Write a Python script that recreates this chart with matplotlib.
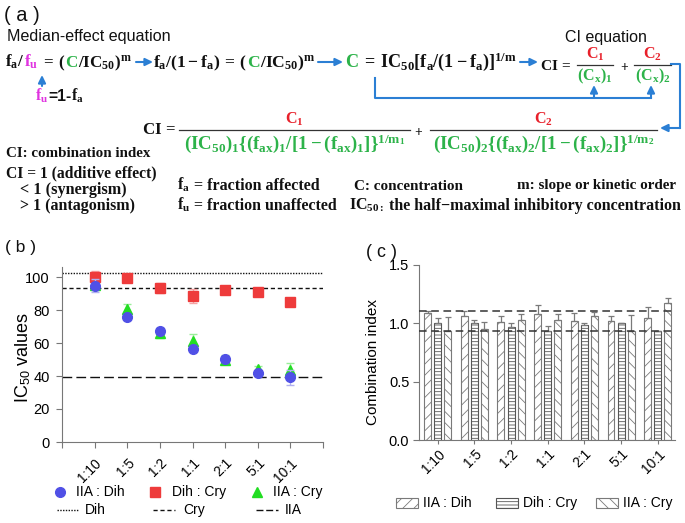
import matplotlib
matplotlib.use('Agg')
import matplotlib.pyplot as plt
from matplotlib.lines import Line2D
from matplotlib.patches import Rectangle, FancyArrowPatch

# ---------------- data ----------------
ratios = ['1:10', '1:5', '1:2', '1:1', '2:1', '5:1', '10:1']

ic50_iia_dih = [94.7, 75.6, 67.5, 56.6, 50.1, 41.8, 39.2]
ic50_iia_dih_err = [4.0, 1.5, 1.5, 1.5, 1.5, 2.0, 4.5]
ic50_dih_cry = [99.8, 99.6, 93.3, 88.5, 91.9, 91.1, 84.7]
ic50_dih_cry_err = [4.0, 1.0, 3.0, 4.5, 1.0, 1.5, 1.0]
ic50_iia_cry = [95.0, 80.4, 66.0, 61.2, 50.0, 44.2, 43.6]
ic50_iia_cry_err = [2.0, 3.5, 3.0, 4.5, 3.0, 2.0, 4.5]
ic50_dih_alone = 102.2
ic50_cry_alone = 93.1
ic50_iia_alone = 39.2

ci_iia_dih = [1.086, 1.063, 1.009, 1.077, 1.017, 1.017, 1.043]
ci_iia_dih_err = [0.022, 0.047, 0.056, 0.080, 0.069, 0.048, 0.100]
ci_dih_cry = [1.006, 1.006, 0.968, 0.934, 0.986, 1.000, 0.934]
ci_dih_cry_err = [0.037, 0.024, 0.032, 0.043, 0.014, 0.006, 0.0]
ci_iia_cry = [0.934, 0.948, 1.026, 1.026, 1.063, 0.934, 1.171]
ci_iia_cry_err = [0.117, 0.061, 0.054, 0.054, 0.034, 0.137, 0.043]
ci_lines = [0.932, 1.108]

# ---------------- style ----------------
W, H = 685, 523
plt.rcParams['font.family'] = ['Liberation Sans', 'DejaVu Sans']
plt.rcParams['mathtext.fontset'] = 'custom'
plt.rcParams['mathtext.rm'] = 'Liberation Serif:bold'
plt.rcParams['mathtext.it'] = 'Liberation Serif:bold'
plt.rcParams['mathtext.bf'] = 'Liberation Serif:bold'
plt.rcParams['mathtext.sf'] = 'Liberation Sans'
plt.rcParams['mathtext.default'] = 'rm'
plt.rcParams['hatch.linewidth'] = 0.6

BLUE = '#2b7fd4'
GREEN = '#2db34a'
RED = '#e8202a'
MAG = '#e033e0'
K = '#111111'
SERIF = dict(fontfamily='Liberation Serif', fontweight='bold')

fig = plt.figure(figsize=(W / 100, H / 100), dpi=100)
R = fig.canvas.get_renderer()


def fx(x):
    return x / W


def fy(y):
    return 1 - y / H


def _mk(x, y, p, size, **kw):
    s, c = p[0], p[1]
    extra = p[2] if len(p) > 2 else {}
    return fig.text(fx(x), fy(y), s, color=c, fontsize=size, va='baseline', **extra, **kw)


def measure(pieces, size):
    tot = 0
    for p in pieces:
        t = _mk(0, 0, p, size)
        tot += t.get_window_extent(R).width
        t.remove()
    return tot


def seq(x0, y, pieces, width=None, size=10, ha='left'):
    if width is not None:
        size = size * width / measure(pieces, size)
    tot = measure(pieces, size)
    if ha == 'center':
        x0 -= tot / 2
    x = x0
    for p in pieces:
        t = _mk(x, y, p, size)
        x += t.get_window_extent(R).width
    return size


def fit_text(x, y, s, width, color=K, ha='left', va='baseline', **kw):
    t = fig.text(0, 0, s, fontsize=10, **kw)
    w = t.get_window_extent(R).width
    t.remove()
    size = 10 * width / w
    fig.text(fx(x), fy(y), s, fontsize=size, color=color, ha=ha, va=va, **kw)
    return size


def arrow(x0, y0, x1, y1):
    fig.add_artist(FancyArrowPatch((fx(x0), fy(y0)), (fx(x1), fy(y1)),
                                   transform=fig.transFigure,
                                   arrowstyle='-|>,head_length=0.45,head_width=0.22',
                                   mutation_scale=10, color=BLUE, lw=1.5,
                                   shrinkA=0, shrinkB=0))


def poly(xs, ys, color=BLUE, lw=1.5):
    fig.add_artist(Line2D([fx(v) for v in xs], [fy(v) for v in ys],
                          transform=fig.transFigure, color=color, lw=lw))


def frac(x0, x1, ybar, num, numc, den, denc, size, gap_n=2, gap_d=2, den_width=None):
    fig.add_artist(Line2D([fx(x0), fx(x1)], [fy(ybar)] * 2, transform=fig.transFigure,
                          color='#333333', lw=0.9))
    xc = (x0 + x1) / 2
    fig.text(fx(xc), fy(ybar - gap_n), num, color=numc, fontsize=size, ha='center', va='bottom')
    if den_width is not None:
        fit_text(xc, ybar + gap_d, den, den_width, color=denc, ha='center', va='top')
    else:
        fig.text(fx(xc), fy(ybar + gap_d), den, color=denc, fontsize=size, ha='center', va='top')


# ---------------- panel (a) ----------------
fit_text(4, 21, '( a )', 36, color=K)
fit_text(7, 41, 'Median-effect equation', 165, color=K)
fit_text(565, 42, 'CI equation', 82, color=K)

yb = 67
seq(5, yb, [(r'$f_a/$', K), (r'$f_u$', MAG), (r'$\,=\,($', K), (r'$C$', GREEN),
            (r'$/IC_{50})^m$', K)], width=130)
arrow(136, 62, 153, 62)
seq(153, yb, [(r'$f_a/(1-f_a)\,=\,($', K), (r'$C$', GREEN), (r'$/IC_{50})^m$', K)], width=164)
arrow(318, 62, 343, 62)
seq(345, yb, [(r'$C$', GREEN), (r'$\,=\,IC_{50}[f_a/(1-f_a)]^{1/m}$', K)], width=173)
arrow(520, 62, 538, 62)
seq(540, 70, [(r'$CI\,=$', K)], width=32)
frac(577, 613, 65, r'$C_1$', RED, r'$(C_x)_1$', GREEN, 11.5)
fit_text(624, 70, r'$+$', 9, color=K, ha='center')
frac(634, 671, 65, r'$C_2$', RED, r'$(C_x)_2$', GREEN, 11.5)

# f_u arrow and definition
arrow(42, 86, 42, 75)
seq(35, 101, [(r'$f_u$', MAG), ('=1-', K, dict(fontweight='bold')), (r'$f_a$', K)], width=50)

# bracket from C = ... to (Cx)
poly([375, 375, 651], [78, 98, 98])
arrow(594, 98, 594, 85)
arrow(651, 98, 651, 85)
# bracket from CI eq to full CI eq
poly([671, 680, 680], [64, 64, 128])
arrow(680, 128, 660, 128)

# second CI equation
seq(142, 134, [(r'$CI\,=$', K)], width=35)
frac(179, 410, 130, r'$C_1$', RED,
     r'$(IC_{50})_1\{(f_{ax})_1/[1-(f_{ax})_1]\}^{1/m_1}$', GREEN, 11.5,
     den_width=222)
fit_text(419, 135, r'$+$', 9, color=K, ha='center')
frac(430, 657, 130, r'$C_2$', RED,
     r'$(IC_{50})_2\{(f_{ax})_2/[1-(f_{ax})_2]\}^{1/m_2}$', GREEN, 11.5,
     den_width=222)

# definitions
seq(6, 157, [('CI: combination index', K, SERIF)], width=145)
seq(6, 177, [('CI = 1 (additive effect)', K, SERIF)], width=151)
seq(20, 194, [('< 1 (synergism)', K, SERIF)], width=107)
seq(20, 210, [('> 1 (antagonism)', K, SERIF)], width=115)
seq(177, 190, [(r'$f_a$', K), (' = fraction affected', K, SERIF)], width=144)
seq(177, 210, [(r'$f_u$', K), (' = fraction unaffected', K, SERIF)], width=161)
seq(354, 190, [('C: concentration', K, SERIF)], width=109)
seq(517, 189, [('m: slope or kinetic order', K, SERIF)], width=160)
seq(349, 210, [(r'$IC_{50:}$', K), (' the half\u2212maximal inhibitory concentration', K, SERIF)],
    width=332)

# ---------------- panel (b) ----------------
fit_text(5, 252, '( b )', 31, color=K)
axb = fig.add_axes([fx(62), fy(442), (323 - 62) / W, (442 - 267.1) / H])
x = list(range(1, 8))
axb.set_xlim(0, 8)
axb.set_ylim(0, 106)
axb.axhline(ic50_dih_alone, color=K, lw=1.0, ls=(0, (1, 1)), zorder=1)
axb.axhline(ic50_cry_alone, color=K, lw=1.0, ls=(0, (3, 2)), zorder=1)
axb.axhline(ic50_iia_alone, color=K, lw=1.0, ls=(0, (7, 3)), zorder=1)
axb.errorbar(x, ic50_iia_cry, yerr=ic50_iia_cry_err, fmt='^', color='#22dd22', ms=7,
             ecolor='#99ee99', elinewidth=1, capsize=3, zorder=3)
axb.errorbar(x, ic50_dih_cry, yerr=ic50_dih_cry_err, fmt='s', color='#ee3b3b', ms=6.5,
             ecolor='#f5a5a5', elinewidth=1, capsize=3, zorder=4)
axb.errorbar(x, ic50_iia_dih, yerr=ic50_iia_dih_err, fmt='o', color='#5050e6', ms=7,
             ecolor='#b0b0f0', elinewidth=1, capsize=3, zorder=5)
axb.set_xticks(range(0, 9))
axb.set_xticklabels([''] + ratios + [''], rotation=45, ha='right', va='top',
                    rotation_mode='anchor', fontsize=10)
axb.set_yticks([0, 20, 40, 60, 80, 100])
axb.tick_params(axis='y', labelsize=10.5, pad=5, length=4, color='#777777')
axb.tick_params(axis='x', pad=6, length=4, color='#777777')
for s in ['top', 'right']:
    axb.spines[s].set_visible(False)
for s in ['left', 'bottom']:
    axb.spines[s].set_color('#777777')
fig.text(fx(23), fy(357), r'IC$_{\mathsf{50}}$ values', rotation=90, ha='center', va='center',
         fontsize=13)

# legend (b)
for mx, tx, mk, col, ms, lab in [(60, 76, 'o', '#5050e6', 7, 'IIA : Dih'),
                                  (155, 172, 's', '#ee3b3b', 6.5, 'Dih : Cry'),
                                  (257, 273, '^', '#22dd22', 7, 'IIA : Cry')]:
    fig.add_artist(Line2D([fx(mx)], [fy(492)], transform=fig.transFigure, marker=mk,
                          color=col, ms=ms, ls='none'))
    fig.text(fx(tx), fy(492), lab, fontsize=10, va='center', ha='left')
for x0, x1, tx, ls, lab in [(57, 78, 85, (0, (1, 1)), 'Dih'),
                            (153, 175, 183, (0, (3, 2)), 'Cry'),
                            (256, 278, 285, (0, (5, 2)), 'IIA')]:
    fig.add_artist(Line2D([fx(x0), fx(x1)], [fy(510)] * 2, transform=fig.transFigure,
                          color=K, lw=1.0, ls=ls))
    fig.text(fx(tx), fy(510), lab, fontsize=10, va='center', ha='left')

# ---------------- panel (c) ----------------
fit_text(366, 257, '( c )', 31, color=K)
axc = fig.add_axes([fx(419), fy(440), (675 - 419) / W, (440 - 265) / H])
axc.set_xlim(0.49, 7.47)
axc.set_ylim(0, 1.5)
off = 0.275
bw = 0.19
xs1 = [v - off for v in x]
xs3 = [v + off for v in x]
axc.bar(xs1, ci_iia_dih, width=bw, color='white', edgecolor='#7a7a7a', hatch='///', lw=0.8,
        yerr=[[0] * 7, ci_iia_dih_err], error_kw=dict(ecolor='#7a7a7a', elinewidth=0.9,
                                                         capsize=2.5, capthick=0.9), zorder=2)
axc.bar(x, ci_dih_cry, width=bw, color='white', edgecolor='#555555', hatch='-----', lw=0.8,
        yerr=[[0] * 7, ci_dih_cry_err], error_kw=dict(ecolor='#7a7a7a', elinewidth=0.9,
                                                       capsize=2.5, capthick=0.9), zorder=2)
axc.bar(xs3, ci_iia_cry, width=bw, color='white', edgecolor='#7a7a7a', hatch='\\\\\\', lw=0.8,
        yerr=[[0] * 7, ci_iia_cry_err], error_kw=dict(ecolor='#7a7a7a', elinewidth=0.9,
                                                       capsize=2.5, capthick=0.9), zorder=2)
for v in ci_lines:
    axc.axhline(v, color='#333333', lw=1.1, ls=(0, (5, 3)), zorder=3)
axc.set_xticks(x)
axc.set_xticklabels(ratios, rotation=45, ha='right', va='top', rotation_mode='anchor',
                    fontsize=10)
axc.set_yticks([0, 0.5, 1.0, 1.5])
axc.set_yticklabels(['0.0', '0.5', '1.0', '1.5'])
axc.tick_params(axis='y', labelsize=10.5, pad=3, length=4, color='#777777')
axc.tick_params(axis='x', pad=2, length=3, color='#777777')
for s in ['top', 'right']:
    axc.spines[s].set_visible(False)
for s in ['left', 'bottom']:
    axc.spines[s].set_color('#777777')
fig.text(fx(373), fy(362), 'Combination index', rotation=90, ha='center', va='center',
         fontsize=11)

# legend (c)
for px0, tx, hatch, ec, lab in [(396, 423, '///', '#7a7a7a', 'IIA : Dih'),
                                (496, 523, '-----', '#555555', 'Dih : Cry'),
                                (596, 623, '\\\\\\', '#7a7a7a', 'IIA : Cry')]:
    fig.add_artist(Rectangle((fx(px0), fy(508)), 22 / W, 10 / H, transform=fig.transFigure,
                             facecolor='white', edgecolor=ec, hatch=hatch, lw=0.8))
    fig.text(fx(tx), fy(503), lab, fontsize=10, va='center', ha='left')

fig.savefig('out.png', dpi=100)
